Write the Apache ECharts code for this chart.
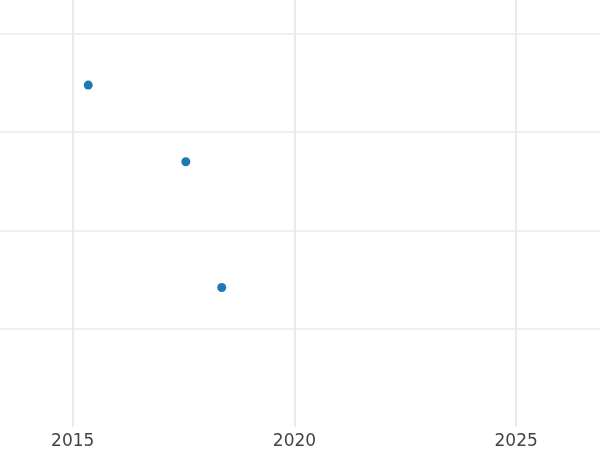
<!DOCTYPE html>
<html><head><meta charset="utf-8">
<script src="https://cdn.jsdelivr.net/npm/echarts@6/dist/echarts.min.js"></script>
<style>html,body{margin:0;padding:0;background:#fff}#c{width:600px;height:450px}</style>
</head><body><div id="c"></div>
<script>
const years = [2015.35, 2017.55, 2018.36];
const values = [3.48, 2.70, 1.42];
const xTicks = [2015, 2020, 2025];

const chart = echarts.init(document.getElementById('c'), null, {renderer: 'canvas'});
chart.setOption({
  animation: false,
  backgroundColor: '#ffffff',
  grid: {left: 0, right: 0, top: 0, bottom: 23, containLabel: false},
  xAxis: {
    type: 'value', min: 2013.36, max: 2026.89,
    axisLine: {show: false},
    axisTick: {show: false, customValues: xTicks},
    splitLine: {show: true, lineStyle: {color: '#ebebeb', width: 2}},
    axisLabel: {
      customValues: xTicks, margin: 6,
      fontFamily: 'DejaVu Sans', fontSize: 17, color: '#444444',
      formatter: v => String(Math.round(v))
    }
  },
  yAxis: {
    type: 'value', min: 0, max: 4.346, interval: 1,
    axisLine: {show: false}, axisTick: {show: false}, axisLabel: {show: false},
    splitLine: {show: true, showMinLine: false, showMaxLine: false, lineStyle: {color: '#ebebeb', width: 1.5}}
  },
  series: [{
    type: 'scatter', symbolSize: 9,
    itemStyle: {color: '#1f77b4', opacity: 1},
    data: years.map((y, i) => [y, values[i]])
  }]
});
</script></body></html>
